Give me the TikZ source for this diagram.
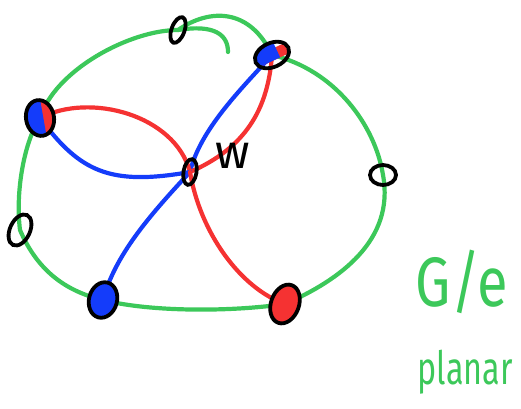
\documentclass[tikz,border=0pt]{standalone}
\usepackage{fontspec}
\newfontfamily\hand{Fira Sans}
\usetikzlibrary{shapes.geometric,backgrounds}
\definecolor{cycgreen}{RGB}{60,200,90}
\definecolor{pathblue}{RGB}{20,60,250}
\definecolor{pathred}{RGB}{245,50,50}
\begin{document}
\begin{tikzpicture}[x=1pt, y=-1pt,
		vtx/.style={ellipse, draw=black, line width=3.8pt, inner sep=0pt},
		bluered/.style={path picture={
				\fill[pathred] (path picture bounding box.south west) rectangle (path picture bounding box.north east);
				\fill[pathblue] (path picture bounding box.south west) rectangle (path picture bounding box.north);}},
		cyc/.style={cycgreen, line width=4.2pt, line cap=round},
		bpath/.style={pathblue, line width=4.2pt, line cap=round},
		rpath/.style={pathred, line width=4.2pt, line cap=round}]
		\useasboundingbox (0,0) rectangle (521,408);
		
		% vertices
		\node[vtx, minimum width=13pt, minimum height=27pt, rotate=-20] (top) at (178,30) {};
		\node[vtx, bluered, minimum width=36pt, minimum height=24pt, rotate=25] (tr) at (272,55) {};
		\node[vtx, bluered, minimum width=28pt, minimum height=36pt, rotate=10] (lft) at (40,118) {};
		\node[vtx, minimum width=26pt, minimum height=20pt] (rgt) at (383,175) {};
		\node[vtx, minimum width=20pt, minimum height=33pt, rotate=-25] (low) at (20,230) {};
		\node[vtx, fill=pathblue, minimum width=28pt, minimum height=36pt, rotate=-15] (bl) at (103,300) {};
		\node[vtx, fill=pathred, minimum width=28pt, minimum height=40pt, rotate=-20] (br) at (285,304) {};
		\node[vtx, minimum width=13pt, minimum height=26pt, rotate=-10] (w) at (190,172) {};
		\node[font=\hand\fontsize{48}{48}\selectfont] (wlabel) at (233,156) {w};
		
		% labels
		\node[cycgreen, font=\hand\fontsize{56}{56}\selectfont, yscale=1.25] (quot) at (462,282) {G/e};
		\node[cycgreen, font=\hand\fontsize{34}{34}\selectfont, yscale=1.35, xscale=0.95] (planar) at (465,372) {planar};
		
		\begin{pgfonlayer}{background}
			% the cycle
			\draw[cyc] (top.center) .. controls (210,8) and (250,8) .. (tr.center)
				.. controls (335,70) and (375,125) .. (rgt.center)
				.. controls (395,240) and (340,280) .. (br.center)
				.. controls (230,312) and (150,312) .. (bl.center)
				.. controls (60,290) and (35,265) .. (low.center)
				.. controls (15,190) and (25,140) .. (lft.center)
				.. controls (55,70) and (130,30) .. (top.center);
			\coordinate (stub) at (228,52);
			\draw[cyc] (top.center) .. controls (215,24) and (228,35) .. (stub);
			
			% paths from w
			\draw[bpath] (w.center) .. controls (200,130) and (240,90) .. (tr.center);
			\draw[rpath] (w.center) .. controls (245,148) and (268,110) .. (tr.center);
			\draw[rpath] (w.center) .. controls (175,115) and (90,92) .. (lft.center);
			\draw[bpath] (w.center) .. controls (110,186) and (80,172) .. (lft.center);
			\draw[bpath] (w.center) .. controls (150,215) and (115,255) .. (bl.center);
			\draw[rpath] (w.center) .. controls (200,232) and (240,288) .. (br.center);
		\end{pgfonlayer}
	\end{tikzpicture}
\end{document}
